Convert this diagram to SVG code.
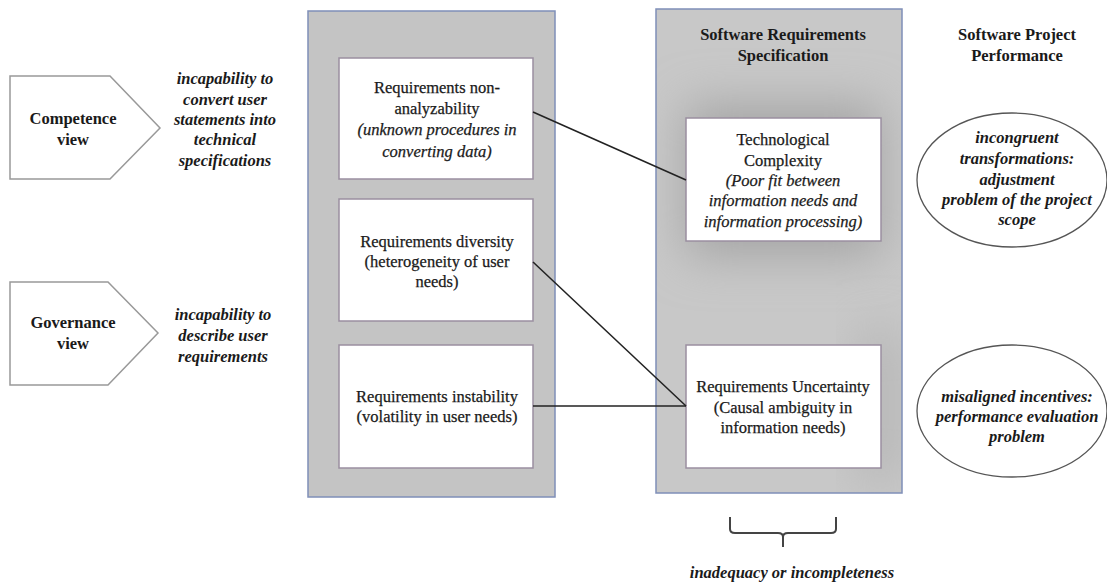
<svg xmlns="http://www.w3.org/2000/svg" width="1107" height="584" viewBox="0 0 1107 584">
<style>
.t{font-family:"Liberation Serif","Times New Roman",serif;font-size:16.5px;fill:#1a1a1a;text-anchor:middle}
.r{stroke:#1a1a1a;stroke-width:0.25}
.b{font-weight:bold}
.i{font-style:italic}
.bi{font-weight:bold;font-style:italic}
.box{fill:#fff;stroke:#9a8ea0;stroke-width:1.5}
.cont{fill:#c4c4c4;stroke:#7f8fb8;stroke-width:1.5}
.pent{fill:#fff;stroke:#999;stroke-width:1.5}
.ell{fill:#fff;stroke:#555;stroke-width:1.3}
.con{stroke:#222;stroke-width:1.6;fill:none}
</style>
<defs>
<filter id="blur" x="-60%" y="-60%" width="220%" height="220%"><feGaussianBlur stdDeviation="24"/></filter>
<clipPath id="rc"><rect x="656" y="9" width="246" height="484"/></clipPath>
</defs>
<rect width="1107" height="584" fill="#fff"/>

<g id="competence-view">
<path class="pent" d="M10 76 H110 L160 128 L110 179 H10 Z"/>
<text class="t b" x="73" y="124">Competence</text>
<text class="t b" x="73" y="145">view</text>
</g>
<g id="competence-label">
<text class="t bi" x="225" y="84">incapability to</text>
<text class="t bi" x="225" y="105">convert user</text>
<text class="t bi" x="225" y="125">statements into</text>
<text class="t bi" x="225" y="145">technical</text>
<text class="t bi" x="225" y="166">specifications</text>
</g>

<g id="governance-view">
<path class="pent" d="M10 282 H108 L158 333 L108 385 H10 Z"/>
<text class="t b" x="73" y="328">Governance</text>
<text class="t b" x="73" y="349">view</text>
</g>
<g id="governance-label">
<text class="t bi" x="223" y="320">incapability to</text>
<text class="t bi" x="223" y="341">describe user</text>
<text class="t bi" x="223" y="362">requirements</text>
</g>

<g id="left-container">
<rect class="cont" x="308" y="11" width="247" height="486"/>
</g>
<g id="req-nonanalyzability">
<rect class="box" x="339" y="58" width="194" height="121"/>
<text class="t r" x="437" y="93">Requirements  non-</text>
<text class="t r" x="437" y="114">analyzability</text>
<text class="t i r" x="437" y="135">(unknown procedures in</text>
<text class="t i r" x="437" y="157">converting data)</text>
</g>
<g id="req-diversity">
<rect class="box" x="339" y="199" width="194" height="122"/>
<text class="t r" x="437" y="247">Requirements  diversity</text>
<text class="t r" x="437" y="267">(heterogeneity  of user</text>
<text class="t r" x="437" y="287">needs)</text>
</g>
<g id="req-instability">
<rect class="box" x="339" y="345" width="194" height="123"/>
<text class="t r" x="437" y="402">Requirements  instability</text>
<text class="t r" x="437" y="422">(volatility  in user needs)</text>
</g>

<g id="srs-container">
<rect x="656" y="9" width="246" height="484" fill="#c8c8c8"/>
<g clip-path="url(#rc)">
<rect x="686" y="105" width="195" height="150" fill="#a4a4a4" filter="url(#blur)"/>
<rect x="860" y="330" width="40" height="150" fill="#b4b4b4" filter="url(#blur)"/>
</g>
<rect x="656" y="9" width="246" height="484" fill="none" stroke="#7f8fb8" stroke-width="1.5"/>
<text class="t b" x="783" y="40">Software Requirements</text>
<text class="t b" x="783" y="61">Specification</text>
</g>
<g id="tech-complexity">
<rect class="box" x="686" y="118" width="195" height="123"/>
<text class="t r" x="783" y="145">Technological</text>
<text class="t r" x="783" y="166">Complexity</text>
<text class="t i r" x="783" y="186">(Poor fit between</text>
<text class="t i r" x="783" y="206">information needs and</text>
<text class="t i r" x="783" y="227">information processing)</text>
</g>
<g id="req-uncertainty">
<rect class="box" x="686" y="345" width="195" height="123"/>
<text class="t r" x="783" y="392">Requirements  Uncertainty</text>
<text class="t r" x="783" y="413">(Causal  ambiguity  in</text>
<text class="t r" x="783" y="433">information  needs)</text>
</g>

<g id="performance-title">
<text class="t b" x="1017" y="40">Software Project</text>
<text class="t b" x="1017" y="61">Performance</text>
</g>
<g id="incongruent">
<ellipse class="ell" cx="1012" cy="180" rx="95" ry="67"/>
<text class="t bi" x="1017" y="143">incongruent</text>
<text class="t bi" x="1017" y="164">transformations:</text>
<text class="t bi" x="1017" y="185">adjustment</text>
<text class="t bi" x="1017" y="205">problem of the project</text>
<text class="t bi" x="1017" y="225">scope</text>
</g>
<g id="misaligned">
<ellipse class="ell" cx="1012" cy="411" rx="95" ry="66"/>
<text class="t bi" x="1017" y="402">misaligned incentives:</text>
<text class="t bi" x="1017" y="422">performance evaluation</text>
<text class="t bi" x="1017" y="442">problem</text>
</g>

<g id="brace">
<path d="M730 517 V529 Q730 533 735 533 H778 Q783 533 783 537 V547 M783 537 Q783 533 788 533 H831 Q836 533 836 529 V517" fill="none" stroke="#444" stroke-width="2"/>
<text class="t bi" x="792" y="578">inadequacy or incompleteness</text>
</g>

<g id="connectors">
<line class="con" x1="533" y1="112" x2="686" y2="180"/>
<line class="con" x1="533" y1="262" x2="686" y2="406"/>
<line class="con" x1="533" y1="406" x2="686" y2="406"/>
</g>
</svg>
